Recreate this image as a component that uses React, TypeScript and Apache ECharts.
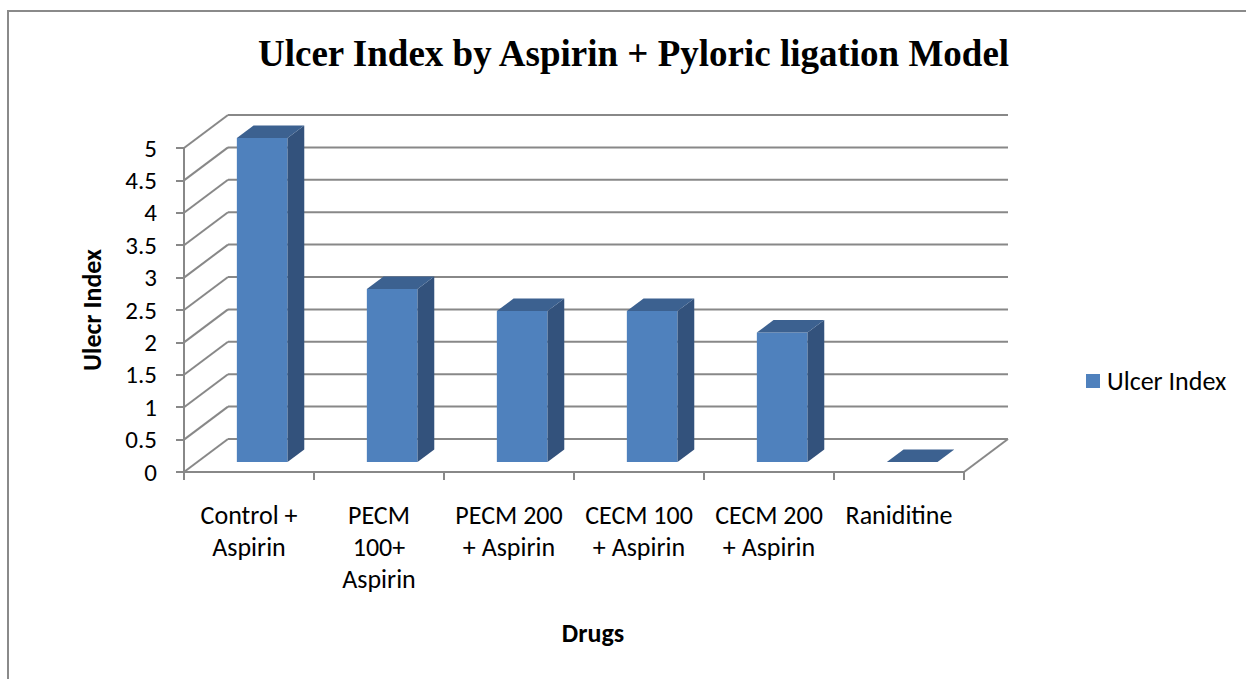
import React, { useEffect, useRef } from "react";
import * as echarts from "echarts";

const categories = [
  "Control +\nAspirin",
  "PECM\n100+\nAspirin",
  "PECM 200\n+ Aspirin",
  "CECM 100\n+ Aspirin",
  "CECM 200\n+ Aspirin",
  "Raniditine",
];
const ulcerIndex = [5, 2.67, 2.33, 2.33, 2.0, 0];
const yTicks = [0, 0.5, 1, 1.5, 2, 2.5, 3, 3.5, 4, 4.5, 5];

const DEPTH_X = 44;
const DEPTH_Y = -33;
const BAR_W = 0.39;
const F1 = 0.3;
const F2 = 0.68;
const GRID_COLOR = "#888888";
const FONT = "Carlito, Calibri, Lato, sans-serif";

export default function App() {
  const ref = useRef<HTMLDivElement>(null);
  useEffect(() => {
    if (!ref.current) return;
    const chart = echarts.init(ref.current, null, { renderer: "svg" });
    const option: any = {
      animation: false,
      backgroundColor: "#ffffff",
      title: {
        text: "Ulcer Index by Aspirin + Pyloric ligation Model",
        left: 253,
        top: 30,
        textStyle: {
          fontFamily: "'Liberation Serif', 'Times New Roman', serif",
          fontWeight: "bold",
          fontSize: 37,
          color: "#000",
        },
      },
      legend: {
        data: ["Ulcer Index"],
        left: 1086,
        top: 368,
        padding: 0,
        icon: "rect",
        itemWidth: 14,
        itemHeight: 14,
        itemGap: 6,
        textStyle: { fontSize: 26, fontFamily: FONT, color: "#000", padding: [0, 0, 0, 2] },
      },
      grid: { left: 184, top: 148, width: 780, height: 324 },
      xAxis: {
        type: "category",
        data: categories,
        name: "Drugs",
        nameLocation: "middle",
        nameGap: 148,
        nameTextStyle: {
          fontSize: 26,
          fontWeight: "bold",
          fontFamily: FONT,
          color: "#000",
          padding: [0, 0, 0, 38],
        },
        axisLine: { show: true, lineStyle: { color: GRID_COLOR, width: 2 } },
        axisTick: { show: true, length: 8, lineStyle: { color: GRID_COLOR, width: 2 } },
        axisLabel: {
          fontSize: 26,
          lineHeight: 32,
          margin: 27,
          fontFamily: FONT,
          color: "#000",
          interval: 0,
        },
        splitLine: { show: false },
      },
      yAxis: {
        type: "value",
        min: 0,
        max: 5,
        interval: 0.5,
        name: "Ulecr Index",
        nameLocation: "middle",
        nameGap: 79,
        nameTextStyle: {
          fontSize: 26,
          fontWeight: "bold",
          fontFamily: FONT,
          color: "#000",
        },
        axisLine: { show: true, lineStyle: { color: GRID_COLOR, width: 2 } },
        axisTick: { show: true, length: 8, lineStyle: { color: GRID_COLOR, width: 2 } },
        axisLabel: { fontSize: 25, margin: 27, fontFamily: FONT, color: "#000" },
        splitLine: { show: false },
      },
      graphic: [
        {
          type: "polyline",
          shape: { points: [[1246, 11], [8, 11], [8, 679]] },
          style: { stroke: "#8a8a8a", lineWidth: 2, fill: "none" },
          z: 100,
        },
      ],
      series: [
        {
          type: "custom",
          name: "walls",
          silent: true,
          z: 1,
          data: yTicks.map((v) => [0, v]),
          renderItem: (params: any, api: any) => {
            const v = api.value(1);
            const p = api.coord([0, v]);
            const cs = params.coordSys;
            const x0 = cs.x;
            const x1 = cs.x + cs.width;
            const y = p[1];
            const st = { stroke: GRID_COLOR, lineWidth: 2 };
            const children: any[] = [
              {
                type: "line",
                shape: { x1: x0, y1: y, x2: x0 + DEPTH_X, y2: y + DEPTH_Y },
                style: st,
              },
              {
                type: "line",
                shape: { x1: x0 + DEPTH_X, y1: y + DEPTH_Y, x2: x1 + DEPTH_X, y2: y + DEPTH_Y },
                style: st,
              },
            ];
            if (v === 0) {
              children.push({
                type: "line",
                shape: { x1: x1, y1: y, x2: x1 + DEPTH_X, y2: y + DEPTH_Y },
                style: st,
              });
            }
            return { type: "group", children };
          },
        },
        {
          type: "custom",
          name: "Ulcer Index",
          z: 3,
          itemStyle: { color: "#4F81BD" },
          data: ulcerIndex.map((v, i) => [i, v]),
          renderItem: (params: any, api: any) => {
            const idx = api.value(0);
            const v = api.value(1);
            const top = api.coord([idx, v]);
            const base = api.coord([idx, 0]);
            const bw = api.size([1, 0])[0];
            const w = bw * BAR_W;
            const ox1 = DEPTH_X * F1;
            const oy1 = DEPTH_Y * F1;
            const dx = DEPTH_X * (F2 - F1);
            const dy = DEPTH_Y * (F2 - F1);
            const xl = base[0] - w / 2 + ox1;
            const xr = base[0] + w / 2 + ox1;
            const yb = base[1] + oy1;
            const yt = top[1] + oy1;
            const children: any[] = [];
            if (yb - yt > 0.5) {
              children.push({
                type: "polygon",
                shape: { points: [[xl, yt], [xr, yt], [xr, yb], [xl, yb]] },
                style: { fill: "#4F81BD" },
              });
              children.push({
                type: "polygon",
                shape: { points: [[xr, yt], [xr + dx, yt + dy], [xr + dx, yb + dy], [xr, yb]] },
                style: { fill: "#33527C" },
              });
            }
            children.push({
              type: "polygon",
              shape: { points: [[xl, yt], [xl + dx, yt + dy], [xr + dx, yt + dy], [xr, yt]] },
              style: { fill: "#3C6190" },
            });
            return { type: "group", children };
          },
        },
      ],
    };
    chart.setOption(option);
    return () => chart.dispose();
  }, []);
  return (
    <div
      ref={ref}
      style={{ position: "absolute", left: 0, top: 0, width: 1246, height: 679 }}
    />
  );
}
